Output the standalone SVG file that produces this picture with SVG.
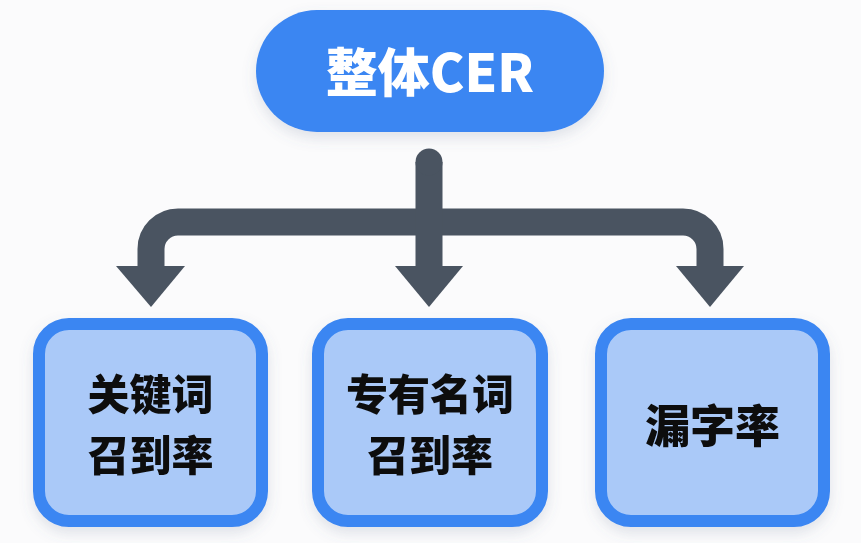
<svg xmlns="http://www.w3.org/2000/svg" width="861" height="543" viewBox="0 0 861 543">
  <defs>
    <filter id="shadow" x="-20%" y="-20%" width="140%" height="150%">
      <feDropShadow dx="0" dy="6" stdDeviation="7" flood-color="#5a6e8c" flood-opacity="0.18"/>
    </filter>
    <style>
      .pill { fill: #3a86f2; }
      .box { fill: #aac9f8; stroke: #3a86f2; stroke-width: 12; }
      .conn { fill: none; stroke: #4a5461; stroke-width: 27; }
      .head { fill: #4a5461; }
      .t { font-family: "Noto Sans CJK SC", "Noto Sans", sans-serif; font-weight: 900; text-anchor: middle; }
      .tw { fill: #ffffff; font-size: 52px; }
      .tb { fill: #0d0d0d; font-size: 42px; }
      .ts { fill: #0d0d0d; font-size: 45px; }
    </style>
  </defs>
  <rect width="861" height="543" fill="#fbfbfc"/>

  <g id="connectors">
    <path class="conn" d="M151,268 V249 A27,27 0 0 1 178,222 H683 A27,27 0 0 1 710,249 V268"/>
    <path class="conn" d="M429,162 V268"/>
    <circle class="head" cx="429" cy="162" r="13.5"/>
    <polygon class="head" points="116,266 185,266 151,307"/>
    <polygon class="head" points="395,266 463,266 429,307"/>
    <polygon class="head" points="676,266 744,266 710,307"/>
  </g>

  <g id="node-top" filter="url(#shadow)">
    <rect class="pill" x="256" y="10" width="348" height="122" rx="61"/>
    <text class="t tw" x="430" y="92">整体CER</text>
  </g>

  <g id="node-keyword" filter="url(#shadow)">
    <rect class="box" x="39" y="324" width="223" height="197" rx="30"/>
    <text class="t tb" x="150.5" y="410">关键词</text>
    <text class="t tb" x="150.5" y="471">召到率</text>
  </g>

  <g id="node-propernoun" filter="url(#shadow)">
    <rect class="box" x="318" y="324" width="224" height="197" rx="30"/>
    <text class="t tb" x="430" y="410">专有名词</text>
    <text class="t tb" x="430" y="471">召到率</text>
  </g>

  <g id="node-missing" filter="url(#shadow)">
    <rect class="box" x="601" y="324" width="223" height="197" rx="30"/>
    <text class="t ts" x="712.5" y="443">漏字率</text>
  </g>
</svg>
